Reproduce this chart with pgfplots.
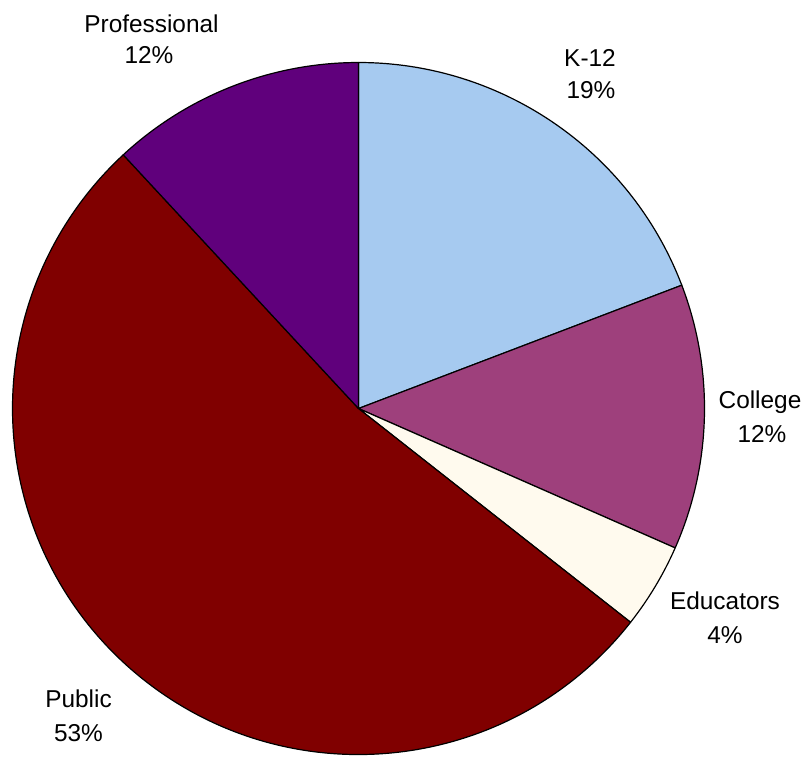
\documentclass[border=0pt]{standalone}
\usepackage{fontspec}
\setmainfont{Liberation Sans}
\usepackage{pgfplots}
\usepackage{pgfplotstable}
\pgfplotsset{compat=1.18}
\definecolor{ck}{RGB}{166,202,240}
\definecolor{cc}{RGB}{158,64,124}
\definecolor{ce}{RGB}{255,250,238}
\definecolor{cp}{RGB}{128,0,0}
\definecolor{cr}{RGB}{96,0,124}

\pgfplotstableread{
label value color
K-12 19.2 ck
College 12.4 cc
Educators 4.0 ce
Public 52.5 cp
Professional 11.9 cr
}\piedata

\begin{document}
\begin{tikzpicture}
\gdef\cum{0}
\pgfplotstableforeachcolumnelement{value}\of\piedata\as\v{%
  \pgfmathsetmacro\s{90-3.6*\cum}%
  \pgfmathsetmacro\newcum{\cum+\v}%
  \pgfmathsetmacro\e{90-3.6*\newcum}%
  \expandafter\xdef\csname sA\pgfplotstablerow\endcsname{\s}%
  \expandafter\xdef\csname eA\pgfplotstablerow\endcsname{\e}%
  \xdef\cum{\newcum}%
}
\pgfplotstablegetelem{0}{color}\of\piedata\expandafter\xdef\csname cA0\endcsname{\pgfplotsretval}
\pgfplotstablegetelem{1}{color}\of\piedata\expandafter\xdef\csname cA1\endcsname{\pgfplotsretval}
\pgfplotstablegetelem{2}{color}\of\piedata\expandafter\xdef\csname cA2\endcsname{\pgfplotsretval}
\pgfplotstablegetelem{3}{color}\of\piedata\expandafter\xdef\csname cA3\endcsname{\pgfplotsretval}
\pgfplotstablegetelem{4}{color}\of\piedata\expandafter\xdef\csname cA4\endcsname{\pgfplotsretval}
\begin{axis}[
  at={(0,0)}, anchor=south west,
  scale only axis,
  width=403pt, height=378.5pt,
  xmin=0, xmax=806, ymin=0, ymax=757,
  y dir=reverse,
  hide axis,
  clip=false,
]
\pgfplotsinvokeforeach{0,...,4}{%
  \edef\temp{\noexpand\filldraw[draw=black, line width=0.6pt, line join=round, fill=\csname cA#1\endcsname] (axis cs:358.5,408.5) -- ++(\csname sA#1\endcsname:173pt) arc[start angle=\csname sA#1\endcsname, end angle=\csname eA#1\endcsname, radius=173pt] -- cycle;}%
  \temp
}
\tikzset{lab/.style={anchor=base, inner sep=0pt, font=\fontsize{12.2}{14}\selectfont}}
\node[lab] at (axis cs:151.5,32) {Professional};
\node[lab] at (axis cs:149,63) {12\%};
\node[lab] at (axis cs:590,66) {K-12};
\node[lab] at (axis cs:591,98) {19\%};
\node[lab] at (axis cs:760,408) {College};
\node[lab] at (axis cs:762,442) {12\%};
\node[lab] at (axis cs:725,609) {Educators};
\node[lab] at (axis cs:725,643) {4\%};
\node[lab] at (axis cs:78.5,707) {Public};
\node[lab] at (axis cs:78.5,741) {53\%};
\end{axis}
\pgfresetboundingbox
\path (0,0) rectangle (403pt,378.5pt);
\end{tikzpicture}
\end{document}
